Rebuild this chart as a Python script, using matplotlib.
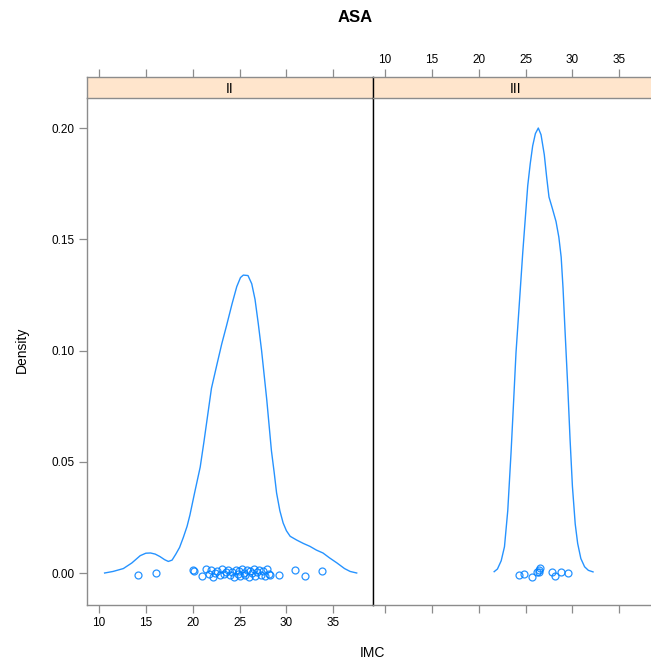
import matplotlib
matplotlib.use("Agg")
from matplotlib import pyplot as plt

plt.rcParams["font.family"] = ["Liberation Sans", "DejaVu Sans"]

BLUE = "#0080ff"
STRIP = "#ffe5cc"
FRAME = "#8c8c8c"

panels = ["II", "III"]

# density curves
curve_x_ii = [10.6, 11.5, 12.6, 13.5, 14.4, 15.0, 15.5, 16.0, 16.5, 17.0, 17.4, 17.8,
              18.2, 18.6, 19.0, 19.4, 19.7, 20.2, 20.8, 21.2, 21.5, 22.0, 22.6, 23.1,
              23.6, 24.2, 24.7, 25.1, 25.4, 25.9, 26.3, 26.65, 27.0, 27.35, 27.9, 28.4,
              28.7, 28.95, 29.3, 29.65, 30.0, 30.4, 31.1, 31.8, 32.5, 33.2, 33.9, 34.6,
              35.4, 36.2, 36.8, 37.5]
curve_y_ii = [0.0, 0.0007, 0.002, 0.0045, 0.0078, 0.0089, 0.009, 0.0085, 0.0074, 0.006,
              0.0052, 0.0058, 0.0085, 0.0115, 0.016, 0.021, 0.026, 0.036, 0.0476, 0.059,
              0.068, 0.083, 0.094, 0.103, 0.111, 0.121, 0.1287, 0.1328, 0.1339, 0.1337,
              0.130, 0.123, 0.112, 0.100, 0.078, 0.055, 0.045, 0.036, 0.028, 0.0225,
              0.019, 0.0165, 0.0148, 0.0133, 0.012, 0.0103, 0.009, 0.0068, 0.0045,
              0.002, 0.0007, 0.0]

curve_x_iii = [21.65, 22.0, 22.4, 22.75, 23.1, 23.45, 23.7, 23.98, 24.35, 24.7, 25.0,
               25.23, 25.5, 25.76, 26.05, 26.36, 26.65, 27.0, 27.25, 27.5, 27.85, 28.25,
               28.55, 28.8, 29.0, 29.2, 29.5, 29.75, 30.0, 30.3, 30.56, 30.9, 31.3,
               31.7, 32.2]
curve_y_iii = [0.0006, 0.0018, 0.0055, 0.0118, 0.028, 0.054, 0.075, 0.099, 0.122, 0.144,
               0.161, 0.174, 0.184, 0.192, 0.1975, 0.200, 0.197, 0.188, 0.178, 0.169,
               0.164, 0.158, 0.151, 0.142, 0.128, 0.110, 0.084, 0.060, 0.039, 0.022,
               0.0133, 0.0065, 0.0028, 0.0012, 0.0005]

# raw observations (jittered rug)
pts_x_ii = [14.2, 16.1, 20.0, 20.1, 21.0, 21.4, 21.7, 22.0, 22.2, 22.4, 22.6, 22.9,
            23.1, 23.3, 23.5, 23.8, 24.0, 24.2, 24.4, 24.6, 24.8, 24.9, 25.1, 25.3,
            25.5, 25.6, 25.8, 26.0, 26.1, 26.3, 26.5, 26.7, 26.9, 27.1, 27.3, 27.5,
            27.7, 27.9, 28.1, 28.3, 29.2, 30.9, 32.0, 33.8]
pts_y_ii = [-0.0009, 0.0, 0.0013, 0.0009, -0.0012, 0.0018, -0.0005, 0.0015, -0.0016,
            0.0002, 0.0011, -0.0009, 0.0017, -0.0003, 0.0006, 0.0014, -0.0011, 0.0004,
            -0.0018, 0.0012, -0.0006, 0.0009, -0.0014, 0.0016, 0.0001, -0.0008, 0.0013,
            -0.0017, 0.0007, -0.0002, 0.0018, -0.0012, 0.0004, 0.0015, -0.0007, 0.0010,
            -0.0015, 0.0017, -0.0003, -0.0010, -0.0009, 0.0013, -0.0013, 0.0009]

pts_x_iii = [24.35, 24.8, 25.65, 26.2, 26.45, 26.45, 26.5, 27.8, 28.1, 28.8, 29.5]
pts_y_iii = [-0.0009, -0.0006, -0.0018, 0.0003, 0.0006, 0.0014, 0.0022, 0.0004,
             -0.0012, 0.0006, 0.0001]

xlim = (8.72, 39.24)
ylim = (-0.01438, 0.2135)
xticks = [10, 15, 20, 25, 30, 35]
yticks = [0.00, 0.05, 0.10, 0.15, 0.20]

W, H = 651, 664
fig = plt.figure(figsize=(W / 100, H / 100), dpi=100)

panel_left = [87, 373]
panel_w = 286
bottom = (H - 605) / H
height = (605 - 98) / H
strip_bottom = 1 - 98 / H
strip_h = 21 / H

curves = [(curve_x_ii, curve_y_ii, pts_x_ii, pts_y_ii),
          (curve_x_iii, curve_y_iii, pts_x_iii, pts_y_iii)]

for i, (name, (cx, cy, px, py)) in enumerate(zip(panels, curves)):
    left = panel_left[i] / W
    ax = fig.add_axes([left, bottom, panel_w / W, height])
    ax.plot(cx, cy, color=BLUE, lw=1.0, solid_joinstyle="round", alpha=0.85)
    ax.plot(px, py, "o", mfc="none", mec=BLUE, ms=5, mew=0.9, alpha=0.85)
    ax.set_xlim(*xlim)
    ax.set_ylim(*ylim)
    ax.set_xticks(xticks)
    ax.tick_params(axis="x", direction="out", length=6, width=0.9, color=FRAME,
                   labelsize=8.5, pad=3, labelbottom=(i == 0))
    if i == 0:
        ax.set_yticks(yticks)
        ax.set_yticklabels([f"{v:.2f}" for v in yticks])
        ax.tick_params(axis="y", direction="out", length=6, width=0.9, color=FRAME,
                       labelsize=8.5, pad=3)
    else:
        ax.set_yticks([])
    for s in ax.spines.values():
        s.set_color(FRAME)
        s.set_linewidth(1.0)
    if i == 1:
        ax.spines["left"].set_color("black")
    ax.spines["top"].set_visible(False)

    sax = fig.add_axes([left, strip_bottom, panel_w / W, strip_h])
    sax.set_facecolor(STRIP)
    sax.set_xlim(*xlim)
    sax.set_yticks([])
    sax.set_xticks(xticks)
    sax.xaxis.set_ticks_position("top")
    sax.tick_params(axis="x", direction="out", length=6, width=0.9, color=FRAME,
                    labelsize=8.5, pad=2, labeltop=(i == 1), labelbottom=False,
                    bottom=False)
    for s in sax.spines.values():
        s.set_color(FRAME)
        s.set_linewidth(1.0)
    if i == 1:
        sax.spines["left"].set_color("black")
    sax.text(0.5, 0.45, name, transform=sax.transAxes, ha="center", va="center",
             fontsize=10)

fig.text(355 / W, 1 - 18 / H, "ASA", ha="center", va="center", fontsize=12,
         fontweight="bold")
fig.text(22 / W, 1 - 350 / H, "Density", ha="center", va="center", fontsize=10,
         rotation=90)
fig.text(372 / W, 1 - 653 / H, "IMC", ha="center", va="center", fontsize=10)

fig.savefig("out.png", dpi=100)
